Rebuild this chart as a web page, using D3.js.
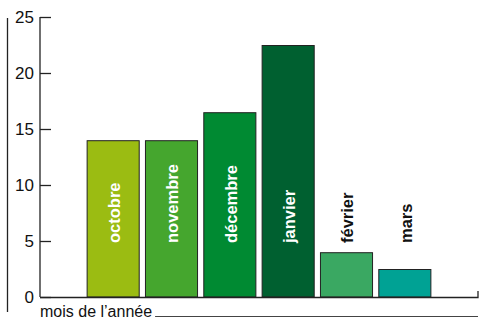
<!DOCTYPE html>
<html>
<head>
<meta charset="utf-8">
<script src="https://cdn.jsdelivr.net/npm/d3@7"></script>
<style>
  body { margin: 0; background: #fff; }
  svg { display: block; font-family: "Liberation Sans", Arial, sans-serif; }
</style>
</head>
<body>
<script>
// Data
var months = ['octobre', 'novembre', 'décembre', 'janvier', 'février', 'mars'];
var values = [14, 14, 16.5, 22.5, 4, 2.5];
var colors = ['#9bbc12', '#45a62e', '#008a32', '#006030', '#3aa862', '#00a294'];
var labelColors = ['#fff', '#fff', '#fff', '#fff', '#111', '#111'];
var yTicks = [0, 5, 10, 15, 20, 25];
var xTitle = 'mois de l\u2019année';

// Layout
var WIDTH = 479;
var HEIGHT = 320;
var AXIS_X = 40;
var TOP = 17;
var BASE = 297;
var RIGHT = 478;

var svg = d3.select('body').append('svg')
  .attr('width', WIDTH)
  .attr('height', HEIGHT);

var y = d3.scaleLinear()
  .domain([0, 25])
  .range([BASE, TOP]);

var x = d3.scaleBand()
  .domain(months)
  .range([84, 434])
  .paddingInner(0.09)
  .paddingOuter(0.045);

// outer left rule
svg.append('line')
  .attr('x1', 7.5).attr('x2', 7.5)
  .attr('y1', 18).attr('y2', 312)
  .attr('stroke', '#222')
  .attr('stroke-width', 1.3);

// bars
svg.selectAll('rect.bar')
  .data(values)
  .enter().append('rect')
  .attr('class', 'bar')
  .attr('x', function (d, i) { return x(months[i]) + 0.5; })
  .attr('y', function (d) { return y(d) + 0.5; })
  .attr('width', x.bandwidth() - 1)
  .attr('height', function (d) { return BASE - y(d) - 0.5; })
  .attr('fill', function (d, i) { return colors[i]; })
  .attr('stroke', '#222')
  .attr('stroke-width', 1);

// bar labels
svg.selectAll('text.lbl')
  .data(months)
  .enter().append('text')
  .attr('class', 'lbl')
  .attr('transform', function (d) {
    return 'translate(' + (x(d) + x.bandwidth() / 2 + 1) + ',' + 243 + ') rotate(-90)';
  })
  .attr('text-anchor', 'start')
  .attr('dy', '0.36em')
  .attr('font-size', 16.5)
  .attr('font-weight', 'bold')
  .attr('fill', function (d, i) { return labelColors[i]; })
  .text(function (d) { return d; });

// y axis
var yAxis = d3.axisRight(y)
  .tickValues(yTicks)
  .tickSize(11)
  .tickFormat('');

var gy = svg.append('g')
  .attr('transform', 'translate(' + AXIS_X + ',0)')
  .call(yAxis);
gy.select('.domain').remove();
gy.selectAll('line').attr('stroke', '#222').attr('stroke-width', 1.3);

svg.append('line')
  .attr('x1', AXIS_X).attr('x2', AXIS_X)
  .attr('y1', TOP).attr('y2', BASE)
  .attr('stroke', '#222')
  .attr('stroke-width', 1.3);

svg.selectAll('text.tick-lbl')
  .data(yTicks)
  .enter().append('text')
  .attr('class', 'tick-lbl')
  .attr('x', 34)
  .attr('y', function (d) { return y(d); })
  .attr('dy', '0.36em')
  .attr('text-anchor', 'end')
  .attr('font-size', 17)
  .attr('fill', '#111')
  .text(function (d) { return d; });

// baseline with small end tick
svg.append('path')
  .attr('d', 'M' + AXIS_X + ',' + (BASE + 0.5) + 'H' + RIGHT + 'V' + (BASE - 6))
  .attr('fill', 'none')
  .attr('stroke', '#222')
  .attr('stroke-width', 1.3);

// x title and rule
var title = svg.append('text')
  .attr('x', 40)
  .attr('y', 316.5)
  .attr('font-size', 16)
  .attr('fill', '#111')
  .text(xTitle);

var tw = title.node().getComputedTextLength();
svg.append('line')
  .attr('x1', 40 + tw + 3).attr('x2', RIGHT)
  .attr('y1', 316.5).attr('y2', 316.5)
  .attr('stroke', '#444')
  .attr('stroke-width', 1.2);
</script>
</body>
</html>
